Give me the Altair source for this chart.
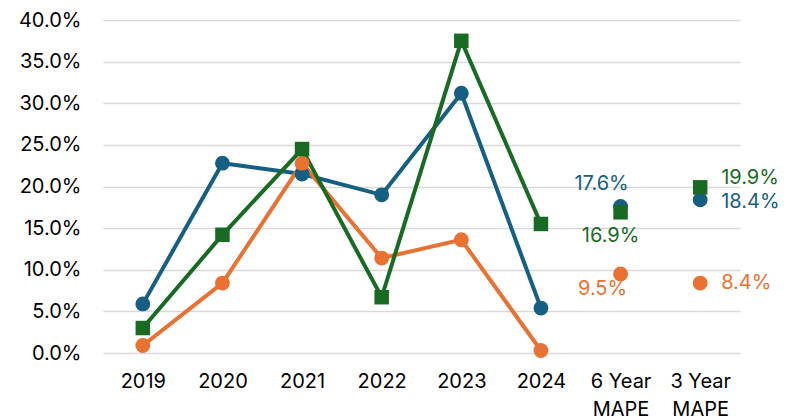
import altair as alt
import pandas as pd

categories = ["2019", "2020", "2021", "2022", "2023", "2024", "6 Year MAPE", "3 Year MAPE"]
years = ["2019", "2020", "2021", "2022", "2023", "2024"]
series_names = ["Blue", "Orange", "Green"]
blue_vals = [0.059, 0.228, 0.215, 0.190, 0.312, 0.054, 0.176, 0.184]
orange_vals = [0.009, 0.084, 0.228, 0.114, 0.136, 0.003, 0.095, 0.084]
green_vals = [0.030, 0.142, 0.245, 0.067, 0.375, 0.155, 0.169, 0.199]
colors = ["#156082", "#E97132", "#196B24"]
y_ticks = [0.0, 0.05, 0.10, 0.15, 0.20, 0.25, 0.30, 0.35, 0.40]

rows = []
for s, vals in zip(series_names, [blue_vals, orange_vals, green_vals]):
    for c, v in zip(categories, vals):
        rows.append({"cat": c, "series": s, "value": v})
df = pd.DataFrame(rows)

FONT = "Inter"
FS = 20

x_enc = alt.X(
    "cat:N",
    sort=categories,
    scale=alt.Scale(domain=categories, paddingInner=0, paddingOuter=0),
    axis=alt.Axis(
        title=None, labelAngle=0, domain=False, ticks=False,
        labelPadding=18, labelFontSize=FS, labelColor="#000000", labelFont=FONT,
        labelExpr="split(replace(datum.label, ' MAPE', '|MAPE'), '|')",
        labelLineHeight=28,
    ),
)
y_enc = alt.Y(
    "value:Q",
    scale=alt.Scale(domain=[0, 0.4], nice=False),
    axis=alt.Axis(
        title=None, format=".1%", values=y_ticks, domain=False, ticks=False,
        labelPadding=22, labelFontSize=FS, labelColor="#000000", labelFont=FONT,
        grid=True, gridColor="#D9D9D9", gridWidth=1.5,
    ),
)
color_enc = alt.Color(
    "series:N",
    scale=alt.Scale(domain=series_names, range=colors),
    legend=None,
)

base = alt.Chart(df)

lines = base.transform_filter(
    alt.FieldOneOfPredicate(field="cat", oneOf=years)
).mark_line(strokeWidth=4).encode(
    x=x_enc, y=y_enc, color=color_enc, detail="series:N",
    order=alt.Order("cat:N"),
)

circles = base.transform_filter(
    alt.FieldOneOfPredicate(field="series", oneOf=["Blue", "Orange"])
).mark_point(shape="circle", filled=True, opacity=1, size=220).encode(
    x=x_enc, y=y_enc, color=color_enc,
)

squares = base.transform_filter(
    alt.datum.series == "Green"
).mark_point(shape="square", filled=True, opacity=1, size=210).encode(
    x=x_enc, y=y_enc, color=color_enc,
)


def label(cat, series, dx, dy, align):
    color = colors[series_names.index(series)]
    return base.transform_filter(
        (alt.datum.cat == cat) & (alt.datum.series == series)
    ).mark_text(
        align=align, baseline="middle", dx=dx, dy=dy,
        fontSize=FS, font=FONT, color=color,
    ).encode(
        x=alt.X("cat:N", sort=categories, scale=alt.Scale(domain=categories, paddingInner=0, paddingOuter=0)),
        y=alt.Y("value:Q", scale=alt.Scale(domain=[0, 0.4], nice=False)),
        text=alt.Text("value:Q", format=".1%"),
    )


labels = [
    label("6 Year MAPE", "Blue", -19, -22, "center"),
    label("6 Year MAPE", "Green", -10, 24, "center"),
    label("6 Year MAPE", "Orange", -18, 15, "center"),
    label("3 Year MAPE", "Green", 21, -9, "left"),
    label("3 Year MAPE", "Blue", 21, 2, "left"),
    label("3 Year MAPE", "Orange", 21, 0, "left"),
]

chart = alt.layer(lines, circles, squares, *labels).properties(
    width=637,
    height=333,
    autosize=alt.AutoSizeParams(type="none"),
    padding={"left": 95, "top": 12, "right": 52, "bottom": 67},
    background="#FFFFFF",
).configure_view(stroke=None)

chart.save("out.html", embed_options={"renderer": "svg", "actions": False})
